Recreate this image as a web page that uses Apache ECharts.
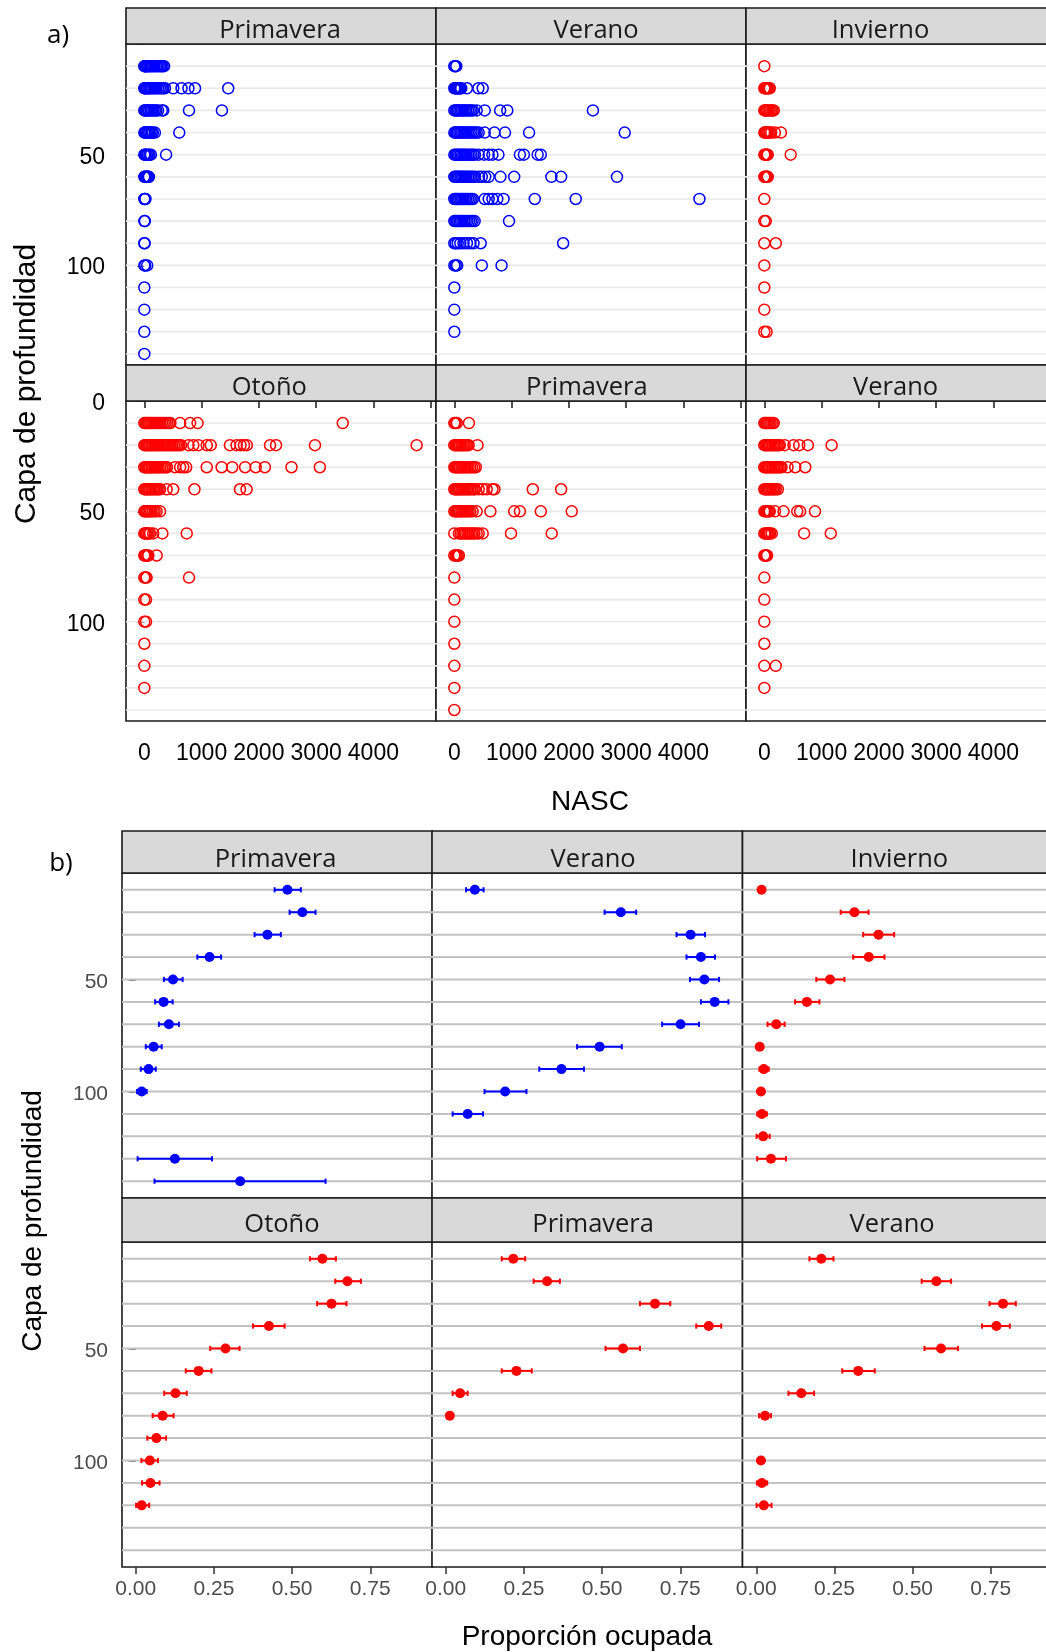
<!DOCTYPE html>
<html>
<head>
<meta charset="utf-8">
<script src="https://cdn.jsdelivr.net/npm/echarts@6/dist/echarts.min.js"></script>
<style>
  html, body { margin: 0; padding: 0; background: #ffffff; }
  #chart { width: 1046px; height: 1652px; }
</style>
</head>
<body>
<div id="chart"></div>
<script>
// Depth layers (m), one row per layer
const depthRows = [10, 20, 30, 40, 50, 60, 70, 80, 90, 100, 110, 120, 130, 140];

// Axis ticks and labels
const nascTicks = [0, 1000, 2000, 3000, 4000, 5000];
const nascLabels = [0, 1000, 2000, 3000, 4000];
const depthTicks = [0, 50, 100];
const propTicks = [0, 0.25, 0.5, 0.75];

// a) NASC per echo-integration cell, listed per depth layer (row i -> depthRows[i])
const nascPrimaveraAzul = [
  [0, 8, 15, 25, 40, 55, 70, 90, 110, 130, 150, 175, 200, 225, 250, 275, 300, 320, 345],
  [0, 10, 20, 35, 50, 70, 90, 110, 135, 160, 185, 210, 240, 270, 300, 330, 360, 505, 650, 770, 885, 1465],
  [0, 10, 25, 45, 65, 85, 110, 135, 160, 185, 210, 240, 305, 330, 780, 1355],
  [0, 12, 25, 45, 65, 85, 105, 130, 150, 185, 610],
  [0, 10, 25, 45, 65, 90, 115, 380],
  [0, 10, 25, 40, 55, 70, 80],
  [0, 8, 20],
  [0, 10],
  [0, 5],
  [0, 15, 50],
  [0], [0], [0], [0]
];
const nascVeranoAzul = [
  [0, 15, 35],
  [0, 15, 30, 45, 60, 75, 90, 105, 120, 220, 420, 495],
  [0, 20, 40, 60, 85, 110, 135, 160, 185, 210, 240, 270, 300, 325, 390, 530, 800, 925, 2420],
  [0, 20, 40, 60, 85, 110, 135, 160, 185, 210, 240, 270, 300, 330, 360, 390, 425, 530, 700, 885, 1305, 2975],
  [0, 20, 40, 60, 85, 110, 135, 160, 185, 210, 240, 270, 300, 330, 360, 425, 520, 600, 665, 770, 1145, 1215, 1455, 1510],
  [0, 20, 40, 60, 85, 110, 135, 160, 185, 210, 240, 270, 300, 330, 360, 430, 480, 540, 600, 805, 1045, 1695, 1865, 2840],
  [0, 20, 40, 60, 85, 110, 135, 160, 185, 210, 240, 270, 300, 325, 530, 600, 665, 750, 860, 1405, 2120, 4280],
  [0, 20, 40, 65, 90, 115, 140, 170, 200, 230, 260, 290, 320, 355, 955],
  [0, 25, 60, 105, 160, 220, 280, 335, 460, 1900],
  [0, 25, 50, 480, 825],
  [0], [0], [0]
];
const nascInviernoRojo = [
  [0],
  [0, 15, 30, 45, 60, 75, 95],
  [0, 15, 30, 50, 70, 95, 120, 145, 165],
  [0, 15, 30, 50, 70, 95, 120, 185, 290],
  [0, 15, 30, 45, 60, 460],
  [0, 15, 30, 45, 60],
  [0],
  [0, 25],
  [0, 200],
  [0], [0], [0],
  [0, 40]
];
const nascOtonoRojo = [
  [0, 20, 40, 60, 80, 100, 125, 150, 175, 200, 225, 250, 280, 310, 340, 370, 400, 430, 455, 625, 800, 930, 3465],
  [0, 20, 40, 60, 80, 100, 125, 150, 175, 200, 225, 250, 280, 310, 340, 370, 400, 430, 460, 490, 520, 550, 580, 610, 640, 770, 855, 945, 1090, 1160, 1495, 1610, 1680, 1740, 1790, 2195, 2300, 2980, 4755],
  [0, 20, 40, 60, 80, 100, 125, 150, 175, 200, 225, 250, 280, 310, 340, 370, 395, 535, 625, 680, 730, 1090, 1350, 1535, 1760, 1945, 2105, 2570, 3065],
  [0, 20, 40, 60, 80, 100, 125, 150, 175, 200, 225, 250, 275, 390, 505, 875, 1670, 1785],
  [0, 15, 30, 50, 70, 95, 120, 150, 180, 215, 275],
  [0, 15, 30, 50, 75, 100, 155, 315, 740],
  [0, 15, 30, 50, 70, 215],
  [0, 20, 40, 780],
  [0, 30],
  [0, 30],
  [0], [0], [0]
];
const nascPrimaveraRojo = [
  [0, 20, 45, 255],
  [0, 20, 40, 60, 80, 100, 125, 150, 175, 200, 225, 250, 405],
  [0, 20, 40, 60, 80, 100, 125, 150, 175, 200, 225, 250, 280, 310, 345, 375],
  [0, 20, 40, 60, 80, 100, 125, 150, 175, 200, 225, 250, 280, 310, 340, 360, 425, 495, 565, 665, 700, 1370, 1865],
  [0, 20, 40, 60, 80, 100, 125, 150, 175, 200, 225, 250, 280, 320, 390, 630, 1045, 1145, 1510, 2050],
  [0, 80, 110, 140, 170, 200, 230, 260, 290, 320, 350, 390, 425, 495, 990, 1700],
  [0, 20, 40, 60, 80],
  [0], [0], [0], [0], [0], [0], [0]
];
const nascVeranoRojo = [
  [0, 20, 40, 60, 85, 110, 140, 165],
  [0, 20, 40, 60, 80, 100, 125, 150, 175, 200, 225, 250, 270, 355, 510, 610, 760, 1175],
  [0, 20, 40, 60, 80, 100, 125, 150, 175, 200, 225, 250, 275, 300, 405, 540, 715],
  [0, 20, 40, 60, 80, 100, 125, 150, 175, 200, 235],
  [0, 20, 40, 60, 80, 95, 185, 335, 575, 625, 885],
  [0, 20, 40, 60, 80, 100, 130, 695, 1160],
  [0, 15, 30, 48],
  [0], [0], [0], [0],
  [0, 200],
  [0]
];

// b) Occupied proportion per layer: [depth, mean, lower CI, upper CI]
const propPrimaveraAzul = [
  [10, 0.485, 0.444, 0.528], [20, 0.533, 0.492, 0.575], [30, 0.421, 0.380, 0.464],
  [40, 0.236, 0.197, 0.273], [50, 0.119, 0.090, 0.150], [60, 0.089, 0.062, 0.118],
  [70, 0.106, 0.074, 0.138], [80, 0.057, 0.032, 0.083], [90, 0.041, 0.016, 0.064],
  [100, 0.019, 0.004, 0.035], [130, 0.125, 0.006, 0.244], [140, 0.334, 0.060, 0.607]
];
const propVeranoAzul = [
  [10, 0.093, 0.065, 0.121], [20, 0.560, 0.508, 0.609], [30, 0.783, 0.738, 0.829],
  [40, 0.816, 0.770, 0.861], [50, 0.827, 0.781, 0.874], [60, 0.860, 0.816, 0.904],
  [70, 0.751, 0.692, 0.810], [80, 0.492, 0.420, 0.563], [90, 0.370, 0.299, 0.442],
  [100, 0.190, 0.124, 0.258], [110, 0.070, 0.022, 0.119]
];
const propInviernoRojo = [
  [10, 0.017, 0.012, 0.022], [20, 0.314, 0.270, 0.359], [30, 0.391, 0.342, 0.441],
  [40, 0.360, 0.310, 0.410], [50, 0.236, 0.192, 0.282], [60, 0.162, 0.124, 0.202],
  [70, 0.064, 0.036, 0.091], [80, 0.011, 0.005, 0.017], [90, 0.024, 0.010, 0.040],
  [100, 0.015, 0.006, 0.025], [110, 0.018, 0.003, 0.034], [120, 0.022, 0.001, 0.043],
  [130, 0.047, 0.003, 0.095]
];
const propOtonoRojo = [
  [10, 0.597, 0.557, 0.640], [20, 0.677, 0.638, 0.720], [30, 0.626, 0.580, 0.674],
  [40, 0.426, 0.375, 0.476], [50, 0.287, 0.238, 0.332], [60, 0.201, 0.160, 0.242],
  [70, 0.127, 0.091, 0.163], [80, 0.086, 0.054, 0.121], [90, 0.066, 0.037, 0.097],
  [100, 0.045, 0.018, 0.071], [110, 0.047, 0.020, 0.076], [120, 0.019, 0.001, 0.043]
];
const propPrimaveraRojo = [
  [10, 0.216, 0.179, 0.254], [20, 0.324, 0.281, 0.365], [30, 0.669, 0.621, 0.718],
  [40, 0.841, 0.801, 0.881], [50, 0.567, 0.511, 0.621], [60, 0.226, 0.179, 0.275],
  [70, 0.046, 0.022, 0.070], [80, 0.013, 0.008, 0.018]
];
const propVeranoRojo = [
  [10, 0.208, 0.170, 0.247], [20, 0.576, 0.529, 0.623], [30, 0.789, 0.746, 0.830],
  [40, 0.768, 0.722, 0.811], [50, 0.591, 0.538, 0.645], [60, 0.326, 0.275, 0.379],
  [70, 0.144, 0.103, 0.185], [80, 0.028, 0.009, 0.047], [100, 0.015, 0.008, 0.022],
  [110, 0.018, 0.002, 0.035], [120, 0.024, 0.001, 0.049]
];

const BLUE = '#0000ff';
const RED = '#ff0000';

const panelsA = [
  { title: 'Primavera', color: BLUE, rows: nascPrimaveraAzul },
  { title: 'Verano', color: BLUE, rows: nascVeranoAzul },
  { title: 'Invierno', color: RED, rows: nascInviernoRojo },
  { title: 'Otoño', color: RED, rows: nascOtonoRojo },
  { title: 'Primavera', color: RED, rows: nascPrimaveraRojo },
  { title: 'Verano', color: RED, rows: nascVeranoRojo }
];
const panelsB = [
  { title: 'Primavera', color: BLUE, rows: propPrimaveraAzul },
  { title: 'Verano', color: BLUE, rows: propVeranoAzul },
  { title: 'Invierno', color: RED, rows: propInviernoRojo },
  { title: 'Otoño', color: RED, rows: propOtonoRojo },
  { title: 'Primavera', color: RED, rows: propPrimaveraRojo },
  { title: 'Verano', color: RED, rows: propVeranoRojo }
];

// Facet layout (px); textDx/textDy nudge each strip label
const LAYOUT_A = {
  left: [126, 436, 746], width: 310,
  stripTop: [8, 365], stripH: [36, 36],
  plotTop: [44, 401], plotH: [321, 320],
  textDx: [-1, 5, -20.5, -11.7, -4.2, -5.4], textDy: [4.8, 4.6]
};
const LAYOUT_B = {
  left: [122, 432, 742.5], width: 310.5,
  stripTop: [831, 1198], stripH: [42, 44],
  plotTop: [873, 1242], plotH: [325, 325],
  textDx: [-1.7, 5.9, 1.6, 4.7, 5.9, -5.6], textDy: [7.3, 4.3]
};

const FONT_AXIS = "'Liberation Sans', Arial, sans-serif";
const FONT_STRIP = "'Open Sans', 'Noto Sans', sans-serif";

const grids = [], xAxes = [], yAxes = [], series = [], graphics = [];

function addStrip(L, k, title) {
  const r = Math.floor(k / 3), c = k % 3;
  const x = L.left[c], y = L.stripTop[r], h = L.stripH[r];
  graphics.push({
    type: 'rect', silent: true, z: 5,
    shape: { x: x, y: y, width: L.width, height: h },
    style: { fill: '#d9d9d9', stroke: '#1a1a1a', lineWidth: 1.6 }
  });
  graphics.push({
    type: 'text', silent: true, z: 6,
    x: x + L.width / 2 + L.textDx[k], y: y + h / 2 + L.textDy[r],
    style: {
      text: title, fill: '#1a1a1a', font: '400 25.5px ' + FONT_STRIP,
      align: 'center', verticalAlign: 'middle',
      textAlign: 'center', textVerticalAlign: 'middle'
    }
  });
}

function gridRowSeries(idx, color, width) {
  return {
    type: 'custom', xAxisIndex: idx, yAxisIndex: idx, silent: true, z: 1,
    animation: false,
    data: depthRows.map(d => [0, d]),
    renderItem: (params, api) => {
      const cs = params.coordSys;
      const y = api.coord([0, api.value(1)])[1];
      return {
        type: 'line',
        shape: { x1: cs.x, y1: y, x2: cs.x + cs.width, y2: y },
        style: { stroke: color, lineWidth: width }
      };
    }
  };
}

// Depth labels sit a little below their tick, as in the printed figure
function depthLabel(size, color, margin) {
  return {
    fontSize: size, fontFamily: FONT_AXIS, color: color, margin: margin,
    formatter: v => '{d|' + v + '}',
    rich: { d: { fontSize: size, fontFamily: FONT_AXIS, color: color, padding: [5, 0, 0, 0] } }
  };
}

// a) NASC facets
panelsA.forEach((p, i) => {
  const r = Math.floor(i / 3), c = i % 3;
  const L = LAYOUT_A;
  addStrip(L, i, p.title);
  grids.push({
    left: L.left[c], top: L.plotTop[r], width: L.width, height: L.plotH[r],
    show: true, borderColor: '#1a1a1a', borderWidth: 1.6, backgroundColor: '#ffffff',
    containLabel: false, outerBoundsMode: 'none'
  });
  xAxes.push({
    type: 'value', gridIndex: i, min: -320, max: 5093,
    axisLine: { show: false }, splitLine: { show: false },
    axisTick: { show: r === 1, customValues: nascTicks, length: 7, lineStyle: { color: '#1a1a1a', width: 1.5 } },
    axisLabel: {
      show: r === 1, customValues: nascLabels, fontSize: 23, fontFamily: FONT_AXIS, color: '#000000', margin: 21,
      formatter: v => String(v)
    }
  });
  yAxes.push({
    type: 'value', gridIndex: i, inverse: true, min: 0, max: 145,
    axisLine: { show: false }, splitLine: { show: false },
    axisTick: { show: c === 0, customValues: depthTicks, length: 7, lineStyle: { color: '#1a1a1a', width: 1.5 } },
    axisLabel: Object.assign({ show: c === 0, customValues: r === 0 ? [50, 100] : depthTicks },
      depthLabel(23, '#000000', 21))
  });
  series.push(gridRowSeries(i, '#e8e8e8', 1.6));
  const pts = [];
  p.rows.forEach((vals, k) => vals.forEach(v => pts.push([v, depthRows[k]])));
  series.push({
    type: 'scatter', xAxisIndex: i, yAxisIndex: i, z: 3, animation: false,
    symbol: 'circle', symbolSize: 11,
    itemStyle: { color: 'rgba(0,0,0,0)', borderColor: p.color, borderWidth: 1.5, opacity: 1 },
    data: pts
  });
});

// b) occupied-proportion facets
panelsB.forEach((p, j) => {
  const i = j + 6;
  const r = Math.floor(j / 3), c = j % 3;
  const L = LAYOUT_B;
  addStrip(L, j, p.title);
  grids.push({
    left: L.left[c], top: L.plotTop[r], width: L.width, height: L.plotH[r],
    show: true, borderColor: '#1a1a1a', borderWidth: 1.6, backgroundColor: '#ffffff',
    containLabel: false, outerBoundsMode: 'none'
  });
  xAxes.push({
    type: 'value', gridIndex: i, min: -0.044, max: 0.949,
    axisLine: { show: false }, splitLine: { show: false },
    axisTick: { show: r === 1, customValues: propTicks, length: 7, lineStyle: { color: '#333333', width: 1.5 } },
    axisLabel: {
      show: r === 1, customValues: propTicks, fontSize: 21, fontFamily: FONT_AXIS, color: '#4d4d4d', margin: 12,
      formatter: v => Number(v).toFixed(2)
    }
  });
  yAxes.push({
    type: 'value', gridIndex: i, inverse: true, min: 2.5, max: 147.5,
    axisLine: { show: false }, splitLine: { show: false },
    axisTick: { show: c === 0, customValues: [50, 100], length: 7, lineStyle: { color: '#333333', width: 1.5 } },
    axisLabel: Object.assign({ show: c === 0, customValues: [50, 100] },
      depthLabel(21, '#4d4d4d', 14))
  });
  series.push(gridRowSeries(i, '#c2c2c2', 2));
  series.push({
    type: 'custom', xAxisIndex: i, yAxisIndex: i, z: 2, animation: false, silent: true,
    encode: { x: [1, 2, 3], y: 0 },
    data: p.rows,
    renderItem: (params, api) => {
      const d = api.value(0);
      const a = api.coord([api.value(2), d]);
      const b = api.coord([api.value(3), d]);
      const h = 2.6;
      const st = { stroke: p.color, lineWidth: 2 };
      return {
        type: 'group',
        children: [
          { type: 'line', shape: { x1: a[0], y1: a[1], x2: b[0], y2: b[1] }, style: st },
          { type: 'line', shape: { x1: a[0], y1: a[1] - h, x2: a[0], y2: a[1] + h }, style: st },
          { type: 'line', shape: { x1: b[0], y1: b[1] - h, x2: b[0], y2: b[1] + h }, style: st }
        ]
      };
    }
  });
  series.push({
    type: 'scatter', xAxisIndex: i, yAxisIndex: i, z: 3, animation: false,
    symbol: 'circle', symbolSize: 10,
    itemStyle: { color: p.color, opacity: 1 },
    data: p.rows.map(row => [row[1], row[0]])
  });
});

// Titles and panel tags
function addText(text, x, y, size, rotate, family) {
  graphics.push({
    type: 'text', silent: true, z: 6, x: x, y: y, rotation: rotate ? Math.PI / 2 : 0,
    style: {
      text: text, fill: '#000000', font: '400 ' + size + 'px ' + (family || FONT_AXIS),
      align: 'center', verticalAlign: 'middle',
      textAlign: 'center', textVerticalAlign: 'middle'
    }
  });
}
addText('a)', 58, 36, 26, false, FONT_STRIP);
addText('b)', 61, 864, 26, false, FONT_STRIP);
addText('Capa de profundidad', 27, 384, 30, true);
addText('Capa de profundidad', 33, 1221, 28, true);
addText('NASC', 590, 802, 28);
addText('Proporción ocupada', 587, 1637, 28);

const chart = echarts.init(document.getElementById('chart'), null, { renderer: 'canvas', width: 1046, height: 1652 });
chart.setOption({
  backgroundColor: '#ffffff',
  animation: false,
  grid: grids,
  xAxis: xAxes,
  yAxis: yAxes,
  series: series,
  graphic: { elements: graphics }
});
</script>
</body>
</html>
